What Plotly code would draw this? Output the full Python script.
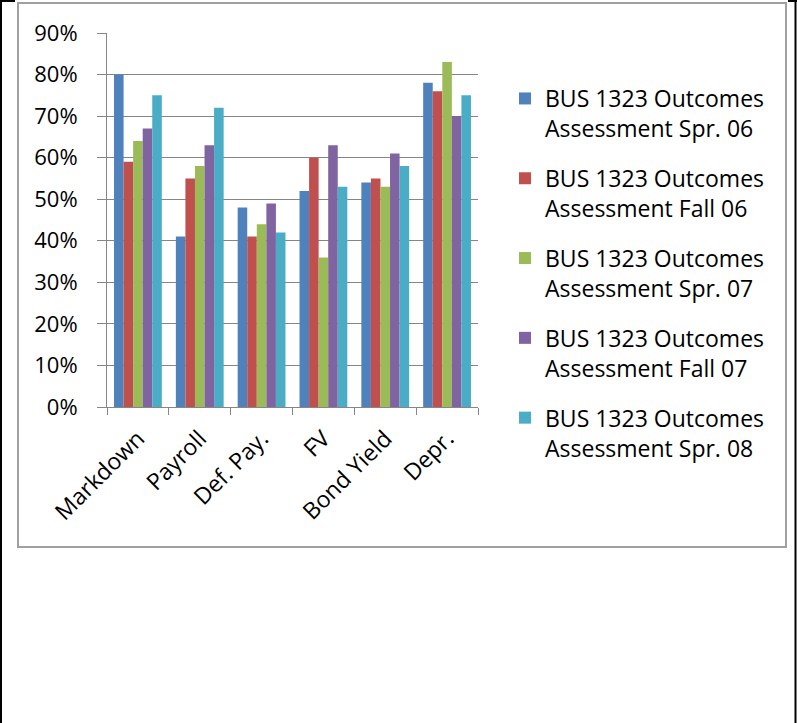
import plotly.graph_objects as go

categories = ["Markdown", "Payroll", "Def. Pay.", "FV", "Bond Yield", "Depr."]
series_names = [
    "BUS 1323 Outcomes<br>Assessment Spr. 06",
    "BUS 1323 Outcomes<br>Assessment Fall 06",
    "BUS 1323 Outcomes<br>Assessment Spr. 07",
    "BUS 1323 Outcomes<br>Assessment Fall 07",
    "BUS 1323 Outcomes<br>Assessment Spr. 08",
]
spr06 = [0.80, 0.41, 0.48, 0.52, 0.54, 0.78]
fall06 = [0.59, 0.55, 0.41, 0.60, 0.55, 0.76]
spr07 = [0.64, 0.58, 0.44, 0.36, 0.53, 0.83]
fall07 = [0.67, 0.63, 0.49, 0.63, 0.61, 0.70]
spr08 = [0.75, 0.72, 0.42, 0.53, 0.58, 0.75]
colors = ["#4F81BD", "#C0504D", "#9BBB59", "#8064A2", "#4BACC6"]

W, H = 797, 723
L, R, T, B = 107, 319, 33, 316
PW = W - L - R
PH = H - T - B


def px(x):
    return (x - L) / PW


def py(y):
    return (H - B - y) / PH


FONT = "Open Sans"
fig = go.Figure()
for i, (name, vals) in enumerate(zip(series_names, [spr06, fall06, spr07, fall07, spr08])):
    fig.add_trace(go.Bar(
        x=categories, y=vals, name=name,
        marker=dict(color=colors[i], line=dict(width=0)),
        legendgroup=f"g{i}",
    ))

grid = "#868686"
fig.update_layout(
    width=W, height=H,
    margin=dict(l=L, r=R, t=T, b=B, pad=0),
    paper_bgcolor="white", plot_bgcolor="white",
    barmode="group", bargap=0.227, bargroupgap=0,
    font=dict(family=FONT, size=22, color="black"),
    showlegend=True,
    legend=dict(
        x=px(505), y=py(77), xanchor="left", yanchor="top",
        font=dict(family=FONT, size=23, color="black"),
        tracegroupgap=17, valign="top", maxheight=650,
        bgcolor="rgba(0,0,0,0)", borderwidth=0,
    ),
    xaxis=dict(
        showline=True, linecolor=grid, linewidth=1,
        ticks="outside", tickson="boundaries", ticklen=7, tickcolor=grid, tickwidth=1,
        tickangle=-45, showgrid=False, ticklabelstandoff=8,
        tickfont=dict(family=FONT, size=23, color="black"),
    ),
    yaxis=dict(
        range=[0, 0.9], dtick=0.1, tickformat=".0%",
        showline=True, linecolor=grid, linewidth=1,
        ticks="outside", ticklen=9, tickcolor=grid, tickwidth=1,
        showgrid=True, gridcolor=grid, gridwidth=1,
        zeroline=False, ticklabelstandoff=15,
        tickfont=dict(family=FONT, size=22, color="black"),
    ),
    shapes=[
        dict(type="rect", xref="paper", yref="paper",
             x0=px(18), x1=px(786), y0=py(547), y1=py(3),
             line=dict(color="#A0A0A0", width=2), fillcolor="rgba(0,0,0,0)", layer="below"),
        dict(type="line", xref="paper", yref="paper",
             x0=px(1), x1=px(1), y0=py(0), y1=py(723),
             line=dict(color="black", width=2)),
        dict(type="line", xref="paper", yref="paper",
             x0=px(795.5), x1=px(795.5), y0=py(0), y1=py(723),
             line=dict(color="black", width=2)),
        dict(type="line", xref="paper", yref="paper",
             x0=px(0), x1=px(15), y0=py(1), y1=py(1),
             line=dict(color="black", width=2)),
        dict(type="line", xref="paper", yref="paper",
             x0=px(788), x1=px(797), y0=py(1), y1=py(1),
             line=dict(color="black", width=2)),
    ],
)

fig.write_html("out.html")
